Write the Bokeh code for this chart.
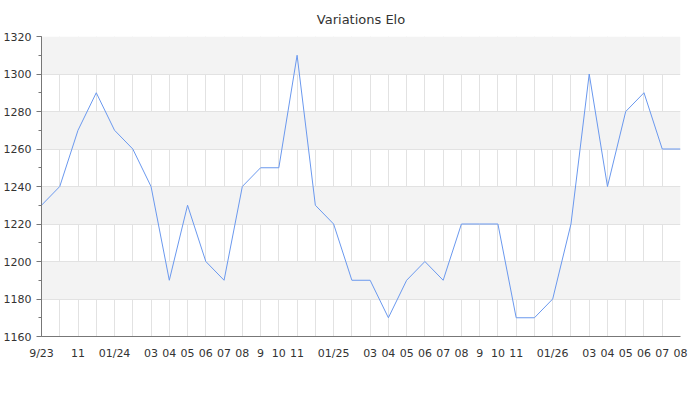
from bokeh.plotting import figure
from bokeh.models import FixedTicker, SingleIntervalTicker, Range1d
from bokeh.embed import file_html
from bokeh.resources import INLINE

months = ["2023-09", "2023-10", "2023-11", "2023-12", "2024-01", "2024-02", "2024-03", "2024-04",
          "2024-05", "2024-06", "2024-07", "2024-08", "2024-09", "2024-10", "2024-11", "2024-12",
          "2025-01", "2025-02", "2025-03", "2025-04", "2025-05", "2025-06", "2025-07", "2025-08",
          "2025-09", "2025-10", "2025-11", "2025-12", "2026-01", "2026-02", "2026-03", "2026-04",
          "2026-05", "2026-06", "2026-07", "2026-08"]
elo = [1230, 1240, 1270, 1290, 1270, 1260, 1240, 1190, 1230, 1200, 1190, 1240, 1250, 1250, 1310, 1230,
       1220, 1190, 1190, 1170, 1190, 1200, 1190, 1220, 1220, 1220, 1170, 1170, 1180, 1220, 1300, 1240,
       1280, 1290, 1260, 1260]
tick_labels = ["9/23", "", "11", "", "01/24", "", "03", "04", "05", "06", "07", "08", "9", "10", "11", "",
               "01/25", "", "03", "04", "05", "06", "07", "08", "9", "10", "11", "", "01/26", "", "03", "04",
               "05", "06", "07", "08"]

x = list(range(len(months)))

p = figure(width=692, height=362, output_backend="svg", toolbar_location=None,
           title="Variations Elo", x_range=Range1d(0, len(months) - 1), y_range=Range1d(1160, 1320),
           min_border_left=30, min_border_right=12, min_border_top=0, min_border_bottom=10)
p.title.align = "center"
p.title.text_font = "DejaVu Sans"
p.title.text_font_size = "13px"
p.title.text_font_style = "normal"
p.title.text_color = "#333333"
p.title.standoff = 19
p.outline_line_color = None

p.line(x, elo, line_color="#6a98ee", line_width=1)

p.xaxis.ticker = FixedTicker(ticks=x)
p.xaxis.major_label_overrides = {i: t for i, t in zip(x, tick_labels)}
p.xaxis.major_tick_line_color = None
p.xaxis.minor_tick_line_color = None
p.xaxis.axis_line_color = "#777777"
p.yaxis.ticker = SingleIntervalTicker(interval=20, num_minor_ticks=2)
p.yaxis.axis_line_color = "#777777"
p.yaxis.major_tick_line_color = "#777777"
p.yaxis.minor_tick_line_color = "#777777"
p.yaxis.major_tick_out = 5
p.yaxis.major_tick_in = 0
p.yaxis.minor_tick_out = 3
p.yaxis.minor_tick_in = 0
p.yaxis.major_label_standoff = 5
p.xaxis.major_label_standoff = 4
for ax in (p.xaxis, p.yaxis):
    ax.major_label_text_font = "DejaVu Sans"
    ax.major_label_text_font_size = "11px"
    ax.major_label_text_color = "#333333"

p.grid.grid_line_color = "#e2e2e2"
p.grid.grid_line_alpha = 1
p.ygrid.band_fill_color = "#f3f3f3"
p.ygrid.band_fill_alpha = 1

open("out.html", "w").write(file_html(p, INLINE))
